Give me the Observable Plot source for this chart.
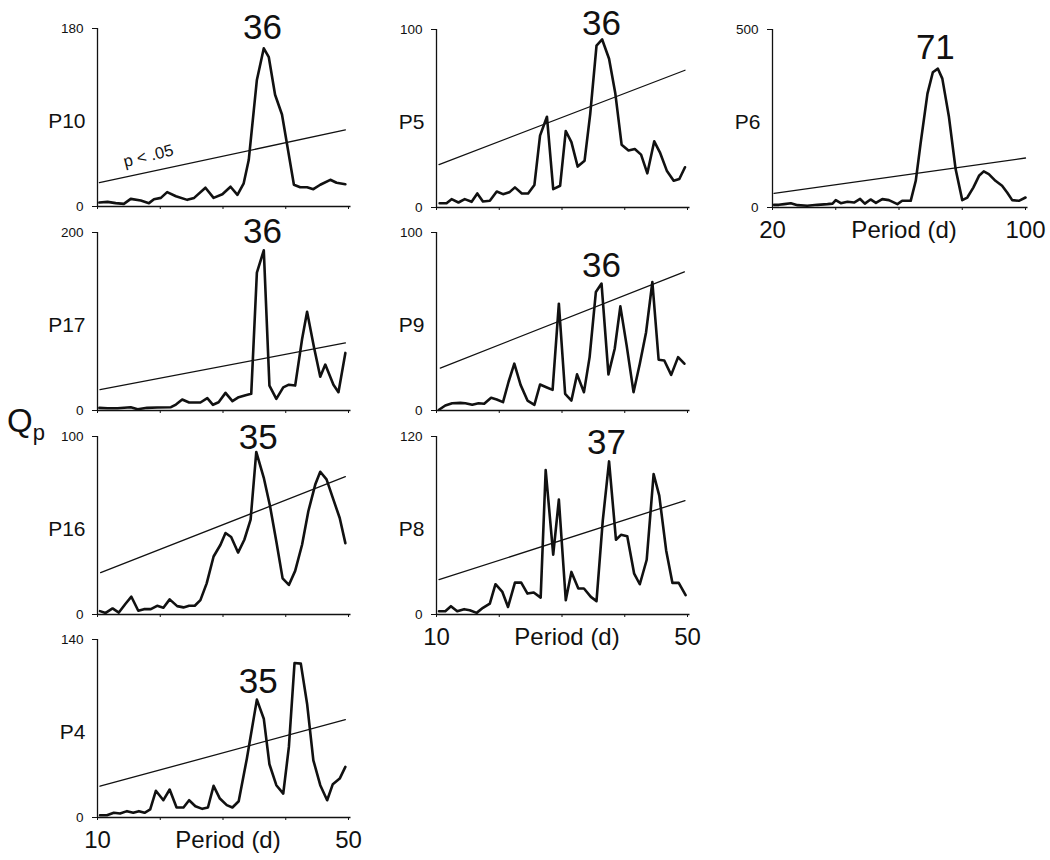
<!DOCTYPE html>
<html><head><meta charset="utf-8">
<script src="https://cdn.jsdelivr.net/npm/d3@7"></script>
<script src="https://cdn.jsdelivr.net/npm/@observablehq/plot@0.6"></script>
<style>
body{margin:0;background:#fff;font-family:"Liberation Sans",Arial,Helvetica,sans-serif;}
#chart{position:relative;width:1050px;height:860px;overflow:hidden;background:#fff;}
#chart svg{position:absolute;background:transparent;overflow:visible;}
.qp{position:absolute;left:7px;top:404px;font-size:33px;line-height:1;color:#111;}
.qp sub{font-size:22px;vertical-align:-8px;}
</style></head><body><div id="chart"><div class="qp">Q<sub>p</sub></div></div>
<script>
// ---- data (period in days, Qp values) ----
const p10Period = [10.3,11.6,12.9,14.2,15.3,16.9,18.2,19.0,20.1,21.1,22.5,24.3,25.4,27.2,28.5,29.9,31.2,32.3,33.3,34.1,35.4,36.5,37.3,38.3,39.4,41.3,42.3,43.4,44.4,45.5,47.1,48.1,49.5];
const p10Q      = [4,4.7,3.4,2.7,7.7,6,3.4,7.4,8.7,14.5,10.4,6.7,8.7,19,8.7,12.4,20,11.8,23.5,47,128,160,151,113,93,22,19.5,19.5,17.5,22,27,24,22.5];

const p17Period = [10.3,11.6,13.2,15.3,16.4,17.9,19.5,21.7,22.5,23.5,24.6,26.4,27.5,28.4,29.3,30.4,31.5,32.5,33.6,34.5,35.4,36.5,37.4,38.5,39.6,40.5,41.5,42.6,43.4,44.5,45.5,46.3,47.6,48.4,49.5];
const p17Q      = [3,2.6,2.6,3.7,1.5,3,3.4,3.7,6.7,12.3,9,9,13.8,6.4,9.3,19.8,10.5,15,17.2,18.7,155,180,28,13,26,29,28,80,111,71,38,51.6,29,20.6,64.7];

const p16Period = [10.4,11.3,12.4,13.4,14.5,15.4,16.5,17.4,18.5,19.5,20.5,21.5,22.7,23.7,24.6,25.5,26.4,27.4,28.5,29.6,30.4,31.3,32.4,33.4,34.4,35.3,36.5,37.5,38.5,39.5,40.5,41.5,42.6,43.6,44.7,45.5,46.5,47.5,48.6,49.5];
const p16Q      = [1.9,0.9,3.4,1.1,6.2,10,2.1,3,3,4.9,3.8,8.5,4.7,4,4.9,4.9,8.1,17.5,32.6,39.2,45.8,43.5,34.8,42,53.3,91.3,76.8,60.8,41,20.3,16.6,24.5,39.2,58,73,80.2,75.9,65.5,54.2,40.1];

const p4Period  = [10.4,11.5,12.6,13.6,14.7,15.7,16.6,17.5,18.4,19.3,20.5,21.5,22.6,23.7,24.6,25.6,26.7,27.6,28.5,29.5,30.6,31.5,32.5,33.8,35.4,36.5,37.4,38.5,39.6,40.5,41.4,42.4,43.4,44.4,45.5,46.6,47.5,48.6,49.5];
const p4Q       = [1.8,1.8,3.7,3.1,5,3.7,5,3.7,6.3,21,13.6,22,7.9,7.9,13.6,8.9,6.8,7.9,24.9,14.9,9.7,7.9,12.8,46.3,92.7,77.7,41.9,25.4,18.8,55.5,121.5,121,89.5,45,25.4,13.6,26.2,30.6,39.8];

const p5Period  = [10.5,11.6,12.4,13.5,14.5,15.6,16.5,17.4,18.5,19.6,20.6,21.6,22.5,23.6,24.6,25.6,26.5,27.6,28.6,29.7,30.6,31.5,32.5,33.6,34.5,35.5,36.4,37.5,38.5,39.5,40.6,41.6,42.6,43.6,44.7,45.6,46.7,47.8,48.7,49.6];
const p5Q       = [2.4,2.4,4.7,2.8,4.7,3.2,7.9,3.4,3.8,9,7.5,8.5,11.3,7.9,7.9,12.6,40.4,51,10.3,12.2,43,36.7,23,26.3,52.6,91,94.4,83.6,64,35.3,32,32.9,29.7,19.2,37.2,31,20.7,15,16,22.6];

const p9Period  = [10.4,11.4,12.5,13.8,14.6,15.7,16.7,17.6,18.7,19.6,20.6,21.5,22.4,23.4,24.5,25.6,26.5,27.5,28.5,29.5,30.5,31.5,32.4,33.5,34.4,35.4,36.3,37.4,38.4,39.3,40.3,41.4,42.4,43.4,44.4,45.4,46.3,47.4,48.5,49.5];
const p9Q       = [0.4,2.8,4.1,4.3,4.1,3.2,4.1,3.8,7.1,6.2,4.7,16.3,26.3,14.4,5.6,3.2,14.6,13.1,11.6,60,9.4,5.6,20.3,10.3,30,66.6,71.3,20.3,34.7,58.5,36.6,10.3,26.3,44,72.2,28.5,28.1,20,30,26.3];

const p8Period  = [10.4,11.4,12.3,13.3,14.4,15.3,16.4,17.4,18.5,19.4,20.5,21.4,22.5,23.5,24.5,25.5,26.6,27.4,28.6,29.5,30.6,31.5,32.6,33.5,34.6,35.5,36.5,37.5,38.6,39.4,40.4,41.5,42.4,43.5,44.6,45.5,46.6,47.6,48.6,49.7];
const p8Q       = [2.2,2.2,5.6,2.2,3.6,2.9,1.1,4.5,7.4,20.4,15.2,5.1,21.5,21.5,14.1,14.8,11.4,97.4,40.3,77.5,9.6,28.7,17.5,17.5,11.9,9,63.4,103.2,50.4,53.7,52.8,27.5,20.4,36.9,94.7,80.1,43.2,21.3,21.3,13];

const p6Period  = [20.5,22,23.7,25.8,27.9,31,34.2,37.4,39,40,41.6,43.7,45.8,47.7,49.2,51,52.7,54.7,56.8,59.5,61,63.7,65.3,66.8,69,70.7,72.3,73.7,75.8,77.9,80,81.6,83.5,85.3,86.8,88.4,90.5,92.6,94.2,95.8,97.9,100];
const p6Q       = [7.5,7.5,9.4,12,6.6,4.7,7.5,9.4,11,20.7,12,16,14,24,11,22.6,13,23.5,20.7,9.4,18.8,18.8,75,178,320,380,390,362,254,108,20.7,28,56,89,101.5,94,75,61,42,20.7,18.8,28];

// significance (p < .05) threshold lines: [period start, period end] and [Qp start, Qp end]
const sigPeriods   = {P10:[10.3,49.5],P17:[10.4,49.5],P16:[10.5,49.5],P4:[10.4,49.5],P5:[10.4,49.6],P9:[10.6,49.5],P8:[10.4,49.6],P6:[20.5,100]};
const sigQ         = {P10:[24.2,77.4],P17:[23.5,75.9],P16:[23.5,77.4],P4:[24.6,77],P5:[24.1,77.1],P9:[23.8,77.9],P8:[23.5,76.8],P6:[39.5,139]};

// y-axis maxima, peak labels
const yMax        = {P10:180,P17:200,P16:100,P4:140,P5:100,P9:100,P8:120,P6:500};
const peakLabels  = {P10:"36",P17:"36",P16:"35",P4:"35",P5:"36",P9:"36",P8:"37",P6:"71"};
const peakLabelAt = {P10:[36.3,181],P17:[36.3,201],P16:[35.6,99.4],P4:[35.6,107],P5:[36.3,103],P9:[36.3,81.5],P8:[37.1,116],P6:[71.5,449]};

// x axes
const xTicksShort = [10,20,30,40,50];
const xTicksLong  = [20,40,60,80,100];
const xLabel = "Period (d)";

const panels = [
  {id:"P10", per:p10Period, q:p10Q, col:0, top:28,  xdom:[10,50], ticks:xTicksShort, bottom:false, sigText:true},
  {id:"P17", per:p17Period, q:p17Q, col:0, top:232, xdom:[10,50], ticks:xTicksShort, bottom:false},
  {id:"P16", per:p16Period, q:p16Q, col:0, top:436, xdom:[10,50], ticks:xTicksShort, bottom:false},
  {id:"P4",  per:p4Period,  q:p4Q,  col:0, top:639, xdom:[10,50], ticks:xTicksShort, bottom:true},
  {id:"P5",  per:p5Period,  q:p5Q,  col:1, top:29,  xdom:[10,50], ticks:xTicksShort, bottom:false},
  {id:"P9",  per:p9Period,  q:p9Q,  col:1, top:232, xdom:[10,50], ticks:xTicksShort, bottom:false},
  {id:"P8",  per:p8Period,  q:p8Q,  col:1, top:436, xdom:[10,50], ticks:xTicksShort, bottom:true},
  {id:"P6",  per:p6Period,  q:p6Q,  col:2, top:29,  xdom:[20,100], ticks:xTicksLong, bottom:true}
];

const colLeft = [97, 436, 772];
const colW = [251, 251, 253];
const H = 178;
const ML = 70, MR = 20, MT = 30, MB = 50;
const FONT = '"Liberation Sans", Arial, Helvetica, sans-serif';
const chart = document.getElementById("chart");

for (const p of panels) {
  const data = p.per.map((d, i) => ({period: d, q: p.q[i]}));
  const sig = sigPeriods[p.id].map((d, i) => ({period: d, q: sigQ[p.id][i]}));
  const [x0, x1] = p.xdom;
  const mid = x0 + (x1 - x0) * 0.52;
  const marks = [
    Plot.ruleX([x0], {y1: 0, y2: yMax[p.id], stroke: "#111", strokeWidth: 1.3}),
    Plot.ruleY([0], {x1: x0, x2: x1 + (x1 - x0) * 0.01, stroke: "#111", strokeWidth: 1.3}),
    Plot.axisY({ticks: [0, yMax[p.id]], tickSize: 5, tickPadding: 9, fontSize: 13.5, tickFormat: d => String(d), label: null}),
    Plot.axisX({ticks: p.ticks, tickSize: 3, tickFormat: () => "", label: null}),
    Plot.line(sig, {x: "period", y: "q", stroke: "#111", strokeWidth: 1.3}),
    Plot.line(data, {x: "period", y: "q", stroke: "#111", strokeWidth: 2.6, strokeLinejoin: "round"}),
    Plot.text([p.id], {frameAnchor: "left", dx: -12, dy: 4, text: d => d, textAnchor: "end", fontSize: 21, fill: "#111"}),
    Plot.text([peakLabels[p.id]], {x: peakLabelAt[p.id][0], y: peakLabelAt[p.id][1], text: d => d, fontSize: 35, fill: "#111"})
  ];
  if (p.sigText) {
    marks.push(Plot.text(["p < .05"], {x: 18.1, y: 51, text: d => d, rotate: -14, fontSize: 16.5, fill: "#111"}));
  }
  if (p.bottom) {
    marks.push(Plot.text([String(x0), String(x1)], {x: d => +d, frameAnchor: "bottom", dy: 30, text: d => d, fontSize: 24, fill: "#111"}));
    marks.push(Plot.text([xLabel], {x: mid, frameAnchor: "bottom", dy: 30, text: d => d, fontSize: 24, fill: "#111"}));
  }
  const svg = Plot.plot({
    width: ML + colW[p.col] + MR,
    height: MT + H + MB,
    marginLeft: ML, marginRight: MR, marginTop: MT, marginBottom: MB,
    style: {background: "transparent", fontFamily: FONT, color: "#111", overflow: "visible"},
    x: {domain: p.xdom, axis: null},
    y: {domain: [0, yMax[p.id]], axis: null},
    marks
  });
  svg.style.left = (colLeft[p.col] - ML) + "px";
  svg.style.top = (p.top - MT) + "px";
  chart.appendChild(svg);
}
</script></body></html>
